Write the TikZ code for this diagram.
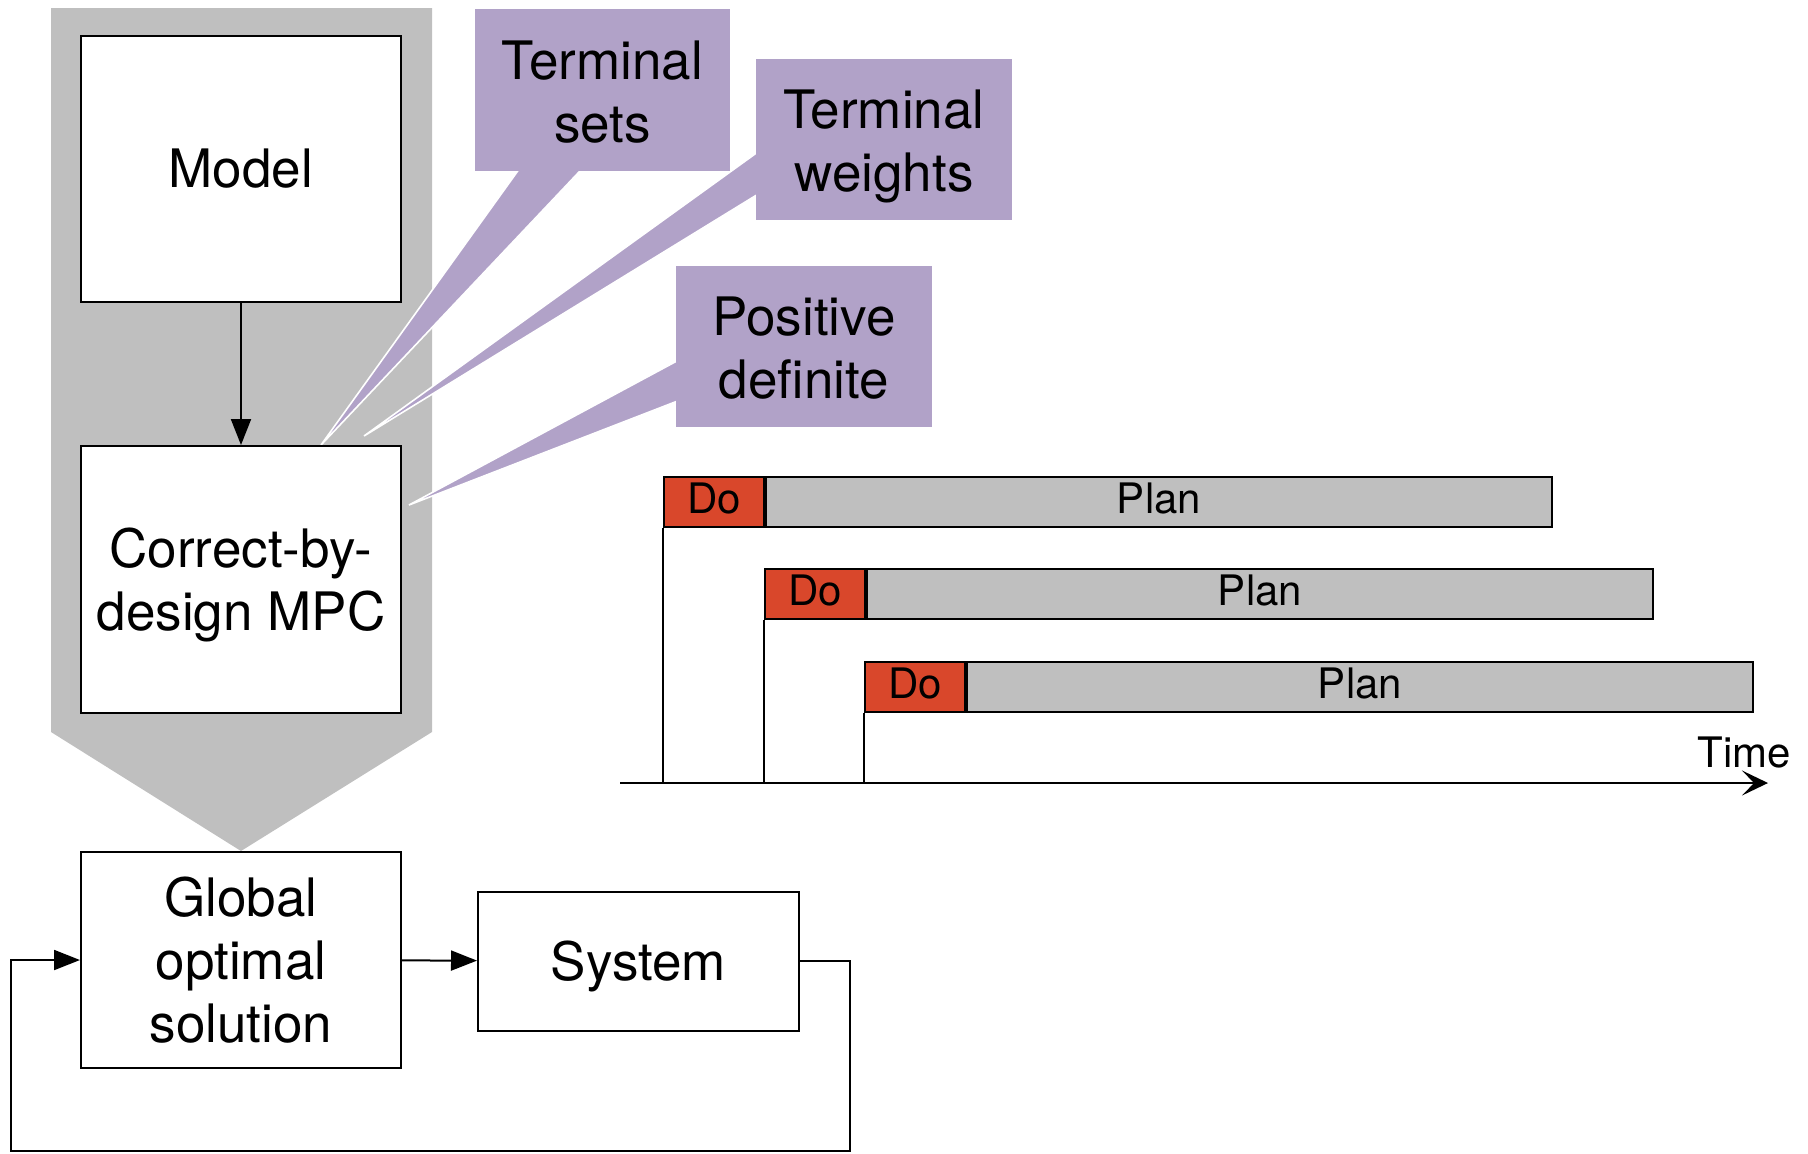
\documentclass[tikz,border=0pt]{standalone}
\usepackage{fontspec}
\setmainfont{TeX Gyre Heros}
\usetikzlibrary{arrows.meta,calc}
\definecolor{bggray}{HTML}{BFBFBF}
\definecolor{callout}{HTML}{B1A2C8}
\definecolor{dored}{HTML}{D9472B}
\newcommand\bigfont{\fontsize{26.5pt}{31.5pt}\selectfont}
\newcommand\smallfont{\fontsize{21pt}{25pt}\selectfont}
\begin{document}
\begin{tikzpicture}[x=0.5pt,y=-0.5pt,
  box/.style={draw=black,line width=1pt,fill=white,align=center,inner sep=0pt,minimum width=160pt,font=\bigfont},
  ctext/.style={align=center,inner sep=0pt,font=\bigfont},
  cshape/.style={fill=callout,draw=white,line width=0.8pt},
  dobox/.style={draw=black,line width=1pt,fill=dored,inner sep=0pt,minimum width=50pt,minimum height=25pt,text depth=3.5pt,font=\smallfont},
  planbox/.style={draw=black,line width=1pt,fill=bggray,inner sep=0pt,minimum width=393pt,minimum height=25pt,text depth=3.5pt,font=\smallfont},
  tline/.style={line width=0.7pt},
  arr/.style={line width=1pt,-{Triangle[length=13pt,width=10pt]}}]
\useasboundingbox (0,0) rectangle (1808,1153);
% big gray arrow
\fill[bggray] (51,8) -- (432,8) -- (432,732) -- (241,851) -- (51,732) -- cycle;
% callouts
\path[cshape] (474,8) -- (731,8) -- (731,172) -- (579,172) -- (321,445) -- (517,172) -- (474,172) -- cycle;
\path[cshape] (755,58) -- (1013,58) -- (1013,221) -- (755,221) -- (755,196) -- (364,436) -- (755,154) -- cycle;
\path[cshape] (675,265) -- (933,265) -- (933,428) -- (675,428) -- (675,402) -- (409,505) -- (675,362) -- cycle;
\node[ctext] (ts) at (602.5,92) {Terminal\\sets};
\node[ctext,text depth=0pt] (tw) at (884,141) {Terminal\\weights};
\node[ctext] (pd) at (804,348) {Positive\\definite};
% boxes
\node[box,minimum height=133pt] (model) at (241,169) {Model};
\node[box,minimum height=133.5pt,text depth=0pt] (mpc) at (241,579.5) {Correct-by-\\design MPC};
\node[box,minimum height=108pt] (global) at (241,960) {Global\\optimal\\solution};
\node[box,minimum width=160.5pt,minimum height=69.5pt,text depth=0pt] (system) at (638.5,961) {System};
\draw[arr] (model) -- (mpc);
\draw[arr] (global) -- (system);
\coordinate (fb1) at (850,1151);
\coordinate (fb2) at (11,1151);
\draw[arr] (system.east) -| (fb1) -- (fb2) |- (global.west);
% timeline
\coordinate (t0) at (620,783);
\coordinate (t1) at (1768,783);
\node[dobox,anchor=north west] (do1) at (663,476) {Do};
\node[planbox,anchor=west] (plan1) at (do1.east) {Plan};
\node[dobox,anchor=north west] (do2) at (764,568) {Do};
\node[planbox,anchor=west] (plan2) at (do2.east) {Plan};
\node[dobox,anchor=north west] (do3) at (864,661) {Do};
\node[planbox,anchor=west] (plan3) at (do3.east) {Plan};
\draw[tline] (do1.south west) -- (do1.south west |- t0);
\draw[tline] (do2.south west) -- (do2.south west |- t0);
\draw[tline] (do3.south west) -- (do3.south west |- t0);
\draw[line width=1pt,-{Stealth[length=13pt,width=12.5pt,inset=6pt]}] (t0) -- (t1);
\node[anchor=base,inner sep=0pt,font=\smallfont] (time) at (1744,767) {Time};
\end{tikzpicture}
\end{document}
